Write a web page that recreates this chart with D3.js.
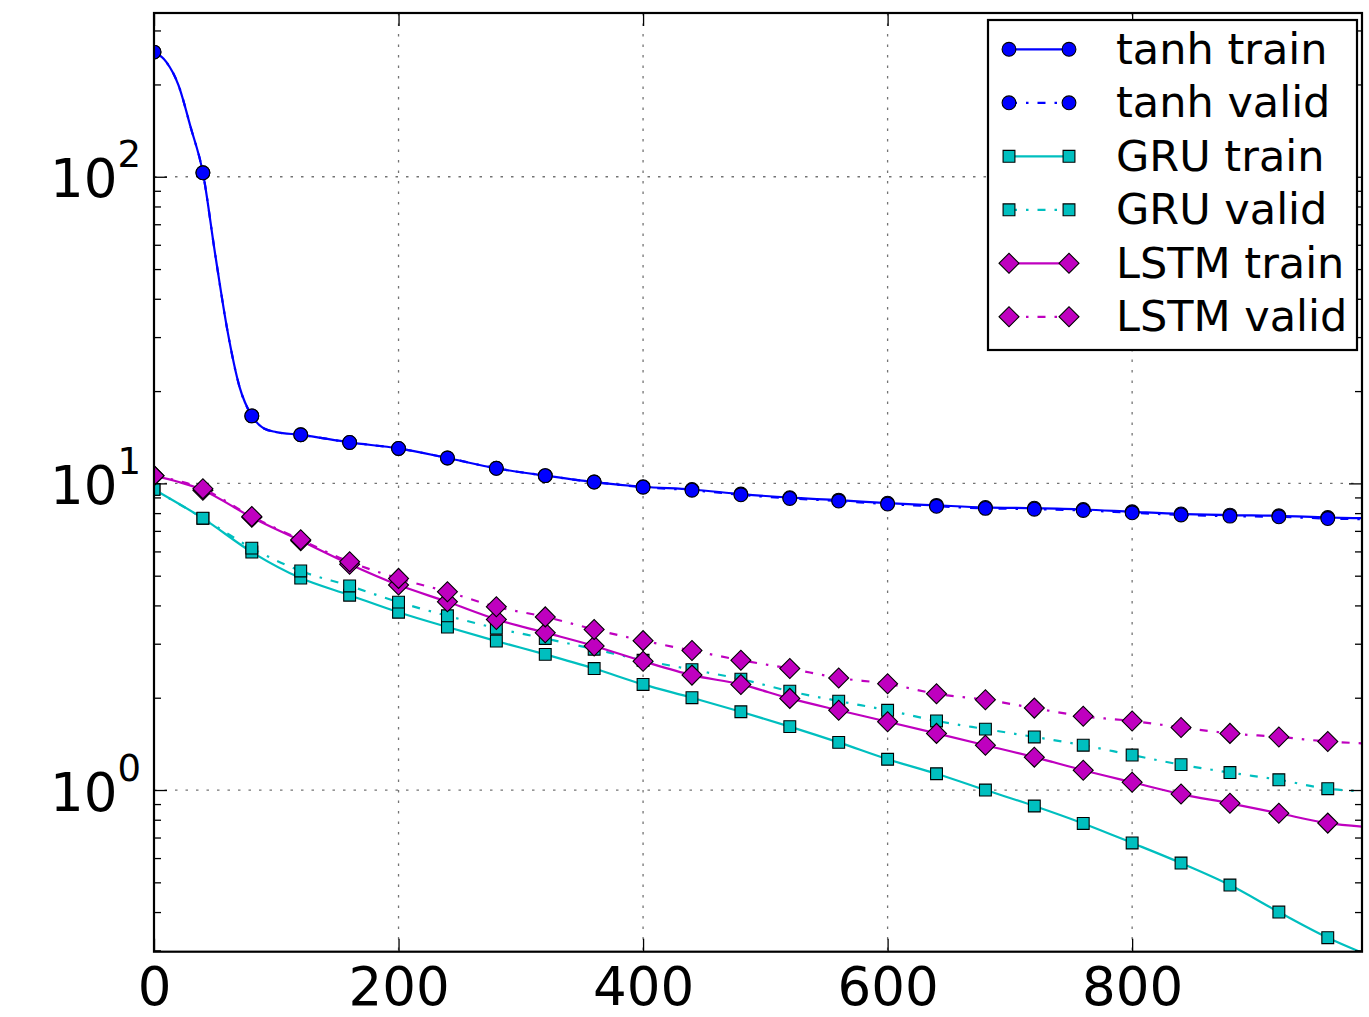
<!DOCTYPE html>
<html>
<head>
<meta charset="utf-8">
<script src="https://cdnjs.cloudflare.com/ajax/libs/d3/7.8.5/d3.min.js"></script>
<style>
  body { margin: 0; background: #fff; }
  svg { display: block; }
  text { font-family: "DejaVu Sans", sans-serif; fill: #000; }
</style>
</head>
<body>
<svg id="chart" width="1369" height="1017"></svg>
<script>
// epochs that carry a marker, and the epoch where the lines stop
var markerEpochs = [0, 40, 80, 120, 160, 200, 240, 280, 320, 360, 400, 440, 480,
                    520, 560, 600, 640, 680, 720, 760, 800, 840, 880, 920, 960];
var lastEpoch = 988;

// values (log scale), one per marker epoch
var tanhTrain = [255, 103, 16.6, 14.4, 13.6, 13.0, 12.1, 11.2, 10.6, 10.1, 9.75, 9.55, 9.23,
                 8.98, 8.82, 8.62, 8.48, 8.35, 8.30, 8.22, 8.08, 7.95, 7.88, 7.84, 7.74];
var tanhValid = [255, 103, 16.6, 14.4, 13.6, 13.0, 12.1, 11.2, 10.6, 10.1, 9.72, 9.50, 9.18,
                 8.93, 8.76, 8.56, 8.42, 8.29, 8.24, 8.16, 8.02, 7.89, 7.82, 7.78, 7.68];
var gruTrain = [9.56, 7.69, 5.97, 4.91, 4.32, 3.80, 3.40, 3.06, 2.77, 2.49, 2.21, 2.00, 1.80,
                1.61, 1.43, 1.26, 1.13, 1.00, 0.887, 0.778, 0.672, 0.578, 0.49, 0.40, 0.33];
var gruValid = [9.56, 7.70, 6.15, 5.18, 4.63, 4.10, 3.70, 3.37, 3.12, 2.88, 2.65, 2.47, 2.30,
                2.10, 1.95, 1.82, 1.68, 1.58, 1.49, 1.40, 1.30, 1.21, 1.14, 1.08, 1.01];
var lstmTrain = [10.6, 9.5, 7.75, 6.5, 5.45, 4.66, 4.11, 3.60, 3.26, 2.95, 2.63, 2.37, 2.21,
                 1.99, 1.82, 1.67, 1.53, 1.40, 1.28, 1.16, 1.06, 0.97, 0.905, 0.84, 0.78];
var lstmValid = [10.6, 9.6, 7.8, 6.55, 5.55, 4.90, 4.43, 3.96, 3.67, 3.34, 3.07, 2.85, 2.65,
                 2.49, 2.32, 2.22, 2.06, 1.97, 1.85, 1.74, 1.68, 1.60, 1.53, 1.49, 1.44];
// value of each line at lastEpoch (series order below)
var lineEnds = [7.70, 7.64, 0.295, 0.99, 0.76, 1.42];

// extra points read along the steep start of the tanh curves
var tanhStartEpochs = [10, 20, 30, 50, 60, 70, 90, 100];
var tanhStartValues = [237, 199, 145, 56, 31.6, 20.6, 15.1, 14.7];

var seriesNames = ["tanh train", "tanh valid", "GRU train", "GRU valid", "LSTM train", "LSTM valid"];
var seriesValues = [tanhTrain, tanhValid, gruTrain, gruValid, lstmTrain, lstmValid];
var seriesColors = ["#0000ff", "#0000ff", "#00bfbf", "#00bfbf", "#bf00bf", "#bf00bf"];
var seriesMarkers = ["circle", "circle", "square", "square", "diamond", "diamond"];
var seriesDashed = [false, true, false, true, false, true];

var xTicks = [0, 200, 400, 600, 800];
var yTicks = [1, 10, 100];
var yTickExponents = ["0", "1", "2"];

var plotLeft = 154, plotRight = 1362, plotTop = 13, plotBottom = 951.7;

var svg = d3.select("#chart");

var x = d3.scaleLinear().domain([0, lastEpoch]).range([plotLeft, plotRight]);
var y = d3.scaleLog().domain([0.297, 342]).range([plotBottom, plotTop]);

// grid (dotted)
var grid = svg.append("g").attr("stroke", "#000").attr("stroke-opacity", 0.55)
  .attr("stroke-width", 1.3).attr("stroke-dasharray", "2.5,8");
grid.selectAll(".gx").data(xTicks.slice(1)).enter().append("line")
  .attr("x1", d => x(d)).attr("x2", d => x(d)).attr("y1", plotTop).attr("y2", plotBottom);
grid.selectAll(".gy").data(yTicks).enter().append("line")
  .attr("x1", plotLeft).attr("x2", plotRight).attr("y1", d => y(d)).attr("y2", d => y(d));

svg.append("clipPath").attr("id", "plotclip").append("rect")
  .attr("x", plotLeft).attr("y", plotTop)
  .attr("width", plotRight - plotLeft).attr("height", plotBottom - plotTop);

function markerPath(kind) {
  if (kind == "circle") return d3.symbol().type(d3.symbolCircle).size(150)();
  if (kind == "square") return d3.symbol().type(d3.symbolSquare).size(140)();
  return d3.symbol().type(d3.symbolSquare).size(200)();
}
function markerRotate(kind) { return kind == "diamond" ? " rotate(45)" : ""; }

var line = d3.line().x(d => x(d[0])).y(d => y(d[1])).curve(d3.curveMonotoneX);

var plot = svg.append("g").attr("clip-path", "url(#plotclip)");

seriesValues.forEach(function (vals, i) {
  var pts = markerEpochs.map((e, j) => [e, vals[j]]);
  if (i < 2) {
    tanhStartEpochs.forEach((e, j) => pts.push([e, tanhStartValues[j]]));
  }
  pts.push([lastEpoch, lineEnds[i]]);
  pts.sort((a, b) => a[0] - b[0]);

  plot.append("path").datum(pts)
    .attr("d", line)
    .attr("fill", "none")
    .attr("stroke", seriesColors[i])
    .attr("stroke-width", 2.2)
    .attr("stroke-dasharray", seriesDashed[i] ? "8,9,2.5,9" : null);

  plot.selectAll(".m" + i).data(markerEpochs).enter().append("path")
    .attr("d", markerPath(seriesMarkers[i]))
    .attr("transform", (e, j) => "translate(" + x(e) + "," + y(vals[j]) + ")" + markerRotate(seriesMarkers[i]))
    .attr("fill", seriesColors[i])
    .attr("stroke", "#000")
    .attr("stroke-width", 1.1);
});

// ticks pointing inwards on all four sides
var minorTicks = y.ticks().filter(v => yTicks.indexOf(v) < 0);

function styleAxis(g) {
  g.select(".domain").remove();
  g.selectAll(".tick line").attr("stroke", "#000").attr("stroke-width", 1.3);
}

svg.append("g").attr("transform", "translate(0," + plotBottom + ")")
  .call(d3.axisBottom(x).tickValues(xTicks).tickSize(-13).tickFormat(d3.format("d")))
  .call(styleAxis)
  .call(g => g.selectAll(".tick text")
    .attr("y", 53).attr("dy", null)
    .style("font-size", "53px").style("font-family", "DejaVu Sans").attr("fill", "#000"));

svg.append("g").attr("transform", "translate(0," + plotTop + ")")
  .call(d3.axisTop(x).tickValues(xTicks).tickSize(-13).tickFormat(""))
  .call(styleAxis);

var yl = svg.append("g").attr("transform", "translate(" + plotLeft + ",0)")
  .call(d3.axisLeft(y).tickValues(yTicks).tickSize(-13).tickFormat(""))
  .call(styleAxis);
yl.selectAll(".tick").append("text")
  .attr("x", -13).attr("y", 20).attr("text-anchor", "end")
  .style("font-size", "53px")
  .each(function (d, i) {
    var t = d3.select(this);
    t.append("tspan").text("10");
    t.append("tspan").attr("dy", -30).style("font-size", "37px").text(yTickExponents[i]);
  });

svg.append("g").attr("transform", "translate(" + plotLeft + ",0)")
  .call(d3.axisLeft(y).tickValues(minorTicks).tickSize(-7).tickFormat(""))
  .call(styleAxis);
svg.append("g").attr("transform", "translate(" + plotRight + ",0)")
  .call(d3.axisRight(y).tickValues(yTicks).tickSize(-13).tickFormat(""))
  .call(styleAxis);
svg.append("g").attr("transform", "translate(" + plotRight + ",0)")
  .call(d3.axisRight(y).tickValues(minorTicks).tickSize(-7).tickFormat(""))
  .call(styleAxis);

// frame
svg.append("rect")
  .attr("x", plotLeft).attr("y", plotTop)
  .attr("width", plotRight - plotLeft).attr("height", plotBottom - plotTop)
  .attr("fill", "none").attr("stroke", "#000").attr("stroke-width", 2.2);

// legend
var legend = svg.append("g");
legend.append("rect")
  .attr("x", 988).attr("y", 20).attr("width", 369).attr("height", 330)
  .attr("fill", "#fff").attr("stroke", "#000").attr("stroke-width", 2.2);

seriesNames.forEach(function (name, i) {
  var ry = 49.3 + i * 53.5;
  var row = legend.append("g");
  row.append("line")
    .attr("x1", 1009).attr("x2", 1069).attr("y1", ry).attr("y2", ry)
    .attr("stroke", seriesColors[i]).attr("stroke-width", 2.2)
    .attr("stroke-dasharray", seriesDashed[i] ? "8,9,2.5,9" : null);
  [1009, 1069].forEach(function (mx) {
    row.append("path")
      .attr("d", markerPath(seriesMarkers[i]))
      .attr("transform", "translate(" + mx + "," + ry + ")" + markerRotate(seriesMarkers[i]))
      .attr("fill", seriesColors[i]).attr("stroke", "#000").attr("stroke-width", 1.1);
  });
  row.append("text")
    .attr("x", 1116).attr("y", ry + 14.5)
    .style("font-size", "43px")
    .text(name);
});
</script>
</body>
</html>
